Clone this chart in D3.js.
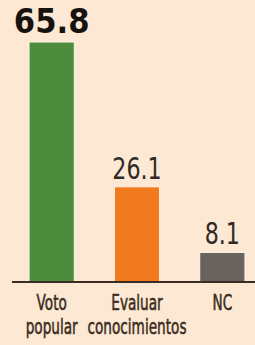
<!DOCTYPE html>
<html>
<head>
<meta charset="utf-8">
<script src="https://cdn.jsdelivr.net/npm/d3@7"></script>
<style>
  html, body { margin: 0; padding: 0; background: #fde8d3; }
</style>
</head>
<body>
<div id="chart"></div>
<script>
// Data
const categories = ["Voto popular", "Evaluar conocimientos", "NC"];
const labelLines = [["Voto", "popular"], ["Evaluar", "conocimientos"], ["NC"]];
const values = [65.8, 26.1, 8.1];
const colors = ["#4b8d3c", "#f17a1f", "#6a625d"];

const width = 255;
const height = 345;
const baseline = 282;

const svg = d3.select("#chart")
  .append("svg")
  .attr("width", width)
  .attr("height", height);

svg.append("rect")
  .attr("width", width)
  .attr("height", height)
  .attr("fill", "#fde8d3");

// Scales
const x = d3.scaleBand()
  .domain(categories)
  .range([9, 265])
  .paddingInner(0.47)
  .paddingOuter(0.235);

const y = d3.scaleLinear()
  .domain([0, 65.8])
  .range([baseline, 42]);

const cx = i => x(categories[i]) + x.bandwidth() / 2;

// Bars
svg.selectAll(".bar")
  .data(values)
  .join("rect")
  .attr("class", "bar")
  .attr("x", (d, i) => x(categories[i]))
  .attr("y", d => y(d))
  .attr("width", x.bandwidth())
  .attr("height", d => baseline - y(d))
  .attr("fill", (d, i) => colors[i])
  .attr("stroke", "#fff3e6")
  .attr("stroke-width", 1);

// Axis line
svg.append("line")
  .attr("x1", 12)
  .attr("x2", width)
  .attr("y1", baseline)
  .attr("y2", baseline)
  .attr("stroke", "#3a2c22")
  .attr("stroke-width", 2);

// Value labels (tall, narrow type)
svg.selectAll(".val")
  .data(values)
  .join("text")
  .attr("class", "val")
  .attr("transform", (d, i) =>
    `translate(${cx(i)},${y(d) - (i === 0 ? 9 : 8)}) scale(${i === 0 ? 0.93 : 0.74},1)`)
  .attr("text-anchor", "middle")
  .attr("font-family", "'DejaVu Sans', sans-serif")
  .attr("font-weight", (d, i) => i === 0 ? "bold" : "normal")
  .attr("font-size", (d, i) => i === 0 ? "33px" : "30px")
  .attr("fill", (d, i) => i === 0 ? "#161210" : "#2e2a28")
  .text(d => d.toFixed(1));

// Category labels (condensed)
svg.selectAll(".cat")
  .data(labelLines)
  .join("g")
  .attr("class", "cat")
  .attr("transform", (d, i) => `translate(${cx(i)},0) scale(0.62,1)`)
  .selectAll("text")
  .data(d => d)
  .join("text")
  .attr("x", 0)
  .attr("y", (d, j) => 310 + j * 24)
  .attr("text-anchor", "middle")
  .attr("font-family", "'DejaVu Sans', sans-serif")
  .attr("font-size", "22px")
  .attr("fill", "#3a2c22")
  .attr("stroke", "#3a2c22")
  .attr("stroke-width", 0.6)
  .text(d => d);
</script>
</body>
</html>
